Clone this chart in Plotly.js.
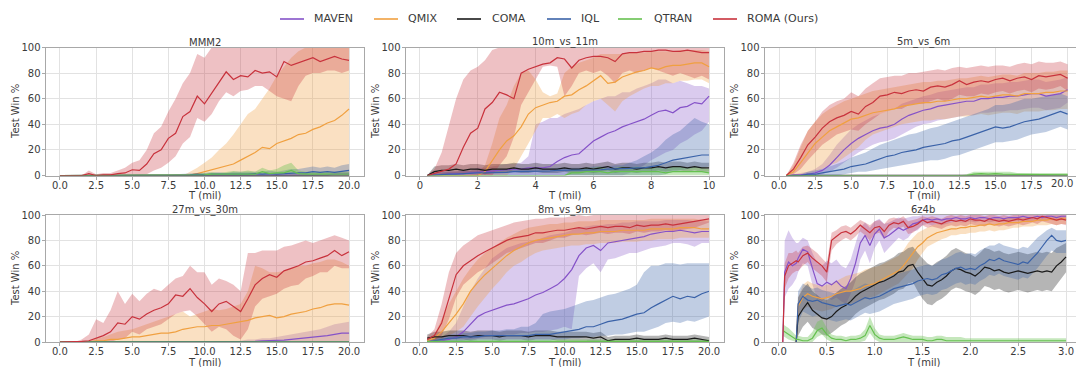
<!DOCTYPE html>
<html>
<head>
<meta charset="utf-8">
<script src="https://cdn.plot.ly/plotly-3.0.1.min.js"></script>
<style>html,body{margin:0;padding:0;background:#fff;}#chart{width:1076px;height:367px;}</style>
</head>
<body>
<div id="chart"></div>
<script>
// ---------------- DATA ----------------
const series_names = ['MAVEN','QMIX','COMA','IQL','QTRAN','ROMA (Ours)'];
const panel_titles = ['MMM2','10m_vs_11m','5m_vs_6m','27m_vs_30m','8m_vs_9m','6z4b'];

// MMM2 (T in mil, 0..20)
const mmm2_x = [0,0.5,1,1.5,2,2.5,3,3.5,4,4.5,5,5.5,6,6.5,7,7.5,8,8.5,9,9.5,10,10.5,11,11.5,12,12.5,13,13.5,14,14.5,15,15.5,16,16.5,17,17.5,18,18.5,19,19.5,20];
const mmm2_roma    = [0,0,0,0,1.5,0,0.5,0.5,1.5,2, 4.5,4,9,17,20,29,33,46,50,62, 56,64,72,81,75,78,77,82,80,81, 77,89,86,88,90,92,89,91,93,91, 90];
const mmm2_roma_lo = [0,0,0,0,0,0,0,0,0,0, 0,0,1,4,6,10,15,25,30,45, 42,48,58,65,62,66,67,70,70,66, 62,60,58,70,78,80,80,82,82,80, 82];
const mmm2_roma_hi = [0,0,0,0,4,1,2,2,4,6, 10,12,20,33,38,50,60,72,80,95, 92,100,100,100,100,100,100,100,100,100, 100,100,100,100,100,100,100,100,100,100, 100];
const mmm2_qmix    = [0,0,0,0,0,0,0,0,0,0, 0,0,0,0,0,0,0,0,0.5,1.5, 3,4,6,7,9,12,15,18,22,21, 25,27,29,32,33,36,38,41,43,47, 52];
const mmm2_qmix_lo = [0,0,0,0,0,0,0,0,0,0, 0,0,0,0,0,0,0,0,0,0, 0,0,0,0,0,0,0,0,0,0, 0,0,0,0,0,0,0,0,0,0, 0];
const mmm2_qmix_hi = [0,0,0,0,0,0,0,0,0,0, 0,0,0,0,0,0,0,0,3,6, 10,14,20,25,32,40,48,52,60,68, 78,85,92,97,100,100,100,100,100,100, 100];
const mmm2_maven    = [0,0,0,0,0,0,0,0,0,0, 0,0,0,0,0,0,0,0,0,0, 0,0,0,0,0,0,0,0,0,0, 0,0,0,0,0,0,0.5,0.5,1,1, 1];
const mmm2_maven_lo = [0,0,0,0,0,0,0,0,0,0, 0,0,0,0,0,0,0,0,0,0, 0,0,0,0,0,0,0,0,0,0, 0,0,0,0,0,0,0,0,0,0, 0];
const mmm2_maven_hi = [0,0,0,0,0,0,0,0,0,0, 0,0,0,0,0,0,0,0,0,0, 0,0,0,0,0,0,0,0,0,0, 1,1,1,1,2,2,2,2,3,3, 3];
const mmm2_coma    = [0,0,0,0,0,0,0,0,0,0, 0,0,0,0,0,0,0,0,0,0, 0,0,0,0,0,0,0,0,0,0, 0,0,0,0,0,0,0,0,0,0, 0];
const mmm2_coma_lo = [0,0,0,0,0,0,0,0,0,0, 0,0,0,0,0,0,0,0,0,0, 0,0,0,0,0,0,0,0,0,0, 0,0,0,0,0,0,0,0,0,0, 0];
const mmm2_coma_hi = [0,0,0,0,0,0,0,0,0,0, 0,0,0,0,0,0,0,0,0,0, 0,0,0,0,0,0,0,0,0,0, 0,0,0,0,0,0,0,0,0,0, 0];
const mmm2_iql    = [0,0,0,0,0,0,0,0,0,0, 0,0,0,0,0,0,0.5,0.5,0.5,1, 0.5,1,1,0.5,1,1,1,1.5,1,1.5, 1,1.5,2,2,2,3,2.5,3,2.5,3, 4];
const mmm2_iql_lo = [0,0,0,0,0,0,0,0,0,0, 0,0,0,0,0,0,0,0,0,0, 0,0,0,0,0,0,0,0,0,0, 0,0,0,0,0,0,0,0,0,0, 0];
const mmm2_iql_hi = [0,0,0,0,0,0,0,0,0,0, 0,0,0,0,0,0,1,1.5,1.5,2, 2,2.5,2.5,2,3,3,3,3.5,3,4, 3,4,5,5,6,7,6,7,6,8, 9];
const mmm2_qtran    = [0,0,0,0,0,0,0,0,0,0, 0,0,0,0,0,0,0,0,0.5,0.5, 0.5,1,1,1,1.5,1,1.5,1,3,1.5, 2,2,4,1.5,1,1,1,1.5,1,1, 1];
const mmm2_qtran_lo = [0,0,0,0,0,0,0,0,0,0, 0,0,0,0,0,0,0,0,0,0, 0,0,0,0,0,0,0,0,0,0, 0,0,0,0,0,0,0,0,0,0, 0];
const mmm2_qtran_hi = [0,0,0,0,0,0,0,0,0,0, 0,0,0,0,0,0,0,0,1,1.5, 1.5,2.5,2,3,3.5,3,4,3,6,4, 5,8,10,4,3,3,3,3.5,3,3, 3];

// 10m_vs_11m (T in mil, 0..10)
const tenm_x = [0,0.25,0.5,0.75,1,1.25,1.5,1.75,2,2.25,2.5,2.75,3,3.25,3.5,3.75,4,4.25,4.5,4.75,5,5.25,5.5,5.75,6,6.25,6.5,6.75,7,7.25,7.5,7.75,8,8.25,8.5,8.75,9,9.25,9.5,9.75,10];
const tenm_roma    = [null,0,1.5,3,5,9,22,33,37,52, 57,65,63,60,80,83,85,87,88,92, 91,84,90,92,93,93,92,89,95,96, 96,97,97,98,98,97,97,98,97,96, 96];
const tenm_roma_lo = [null,0,0,0,0,0,0,0,0,0, 0,8,15,30,55,65,75,85,86,85, 62,70,80,82,80,82,78,72,80,82, 80,82,84,82,80,78,80,78,76,78, 75];
const tenm_roma_hi = [null,0,5,18,40,60,75,82,85,90, 98,100,100,100,100,100,100,100,100,100, 100,100,100,100,100,100,100,100,100,100, 100,100,100,100,100,100,100,100,100,100, 100];
const tenm_qmix    = [null,0,0,0,0,0,0,0,0,3, 12,20,27,31,38,48,53,55,57,58, 62,63,67,70,74,78,72,73,77,79, 81,82,84,83,85,86,86,87,88,88, 85];
const tenm_qmix_lo = [null,0,0,0,0,0,0,0,0,0, 0,0,0,5,15,25,35,45,45,48, 45,48,50,55,58,60,55,50,58,62, 65,68,70,70,72,72,74,74,75,75, 72];
const tenm_qmix_hi = [null,0,0,0,0,0,0,1,2,8, 25,45,55,70,80,82,75,65,62,64, 80,85,88,90,92,95,95,95,95,96, 96,96,97,97,97,97,98,98,98,98, 97];
const tenm_maven    = [null,0,0.5,1,1,1.5,1.5,2,3,3, 4,4,5,5,5,6,6,6,7,11, 14,16,17,22,27,30,33,35,38,40, 42,44,47,50,51,49,53,54,57,56, 62];
const tenm_maven_lo = [null,0,0,0,0,0,0,0,0,0, 0,0,0,0,0,0,0,0,0,0, 0,0,0,0,0,0,0,0,0,2, 5,8,12,15,18,20,25,28,32,35, 42];
const tenm_maven_hi = [null,0,1,2,3,3,4,4,6,6, 7,8,9,9,10,15,40,42,45,45, 48,50,52,55,58,60,62,62,65,65, 68,70,72,75,75,72,74,72,70,70, 68];
const tenm_coma    = [null,0,3,4,4,5,4,5,5,4, 5,5,5,6,5,5,6,5,5,5, 6,5,5,6,5,6,7,5,6,6, 5,6,6,7,6,7,7,6,7,6, 6];
const tenm_coma_lo = [null,0,0,1,1,2,1,2,2,1, 2,2,2,3,2,2,3,2,2,2, 3,2,2,3,2,3,4,2,3,3, 2,3,3,4,3,4,4,3,4,3, 3];
const tenm_coma_hi = [null,0,7,8,8,9,8,9,9,8, 9,9,9,10,9,9,10,9,9,9, 10,9,9,10,9,10,11,9,10,10, 9,10,10,11,10,11,11,10,11,10, 10];
const tenm_iql    = [null,0,0.5,1,1,1,1.5,1.5,2,2, 2,2.5,2.5,3,3,3,3,3.5,3.5,4, 4,4,4,4,4.5,4.5,5,5,5,5.5, 6,6,7,8,10,12,13,14,15,16, 16];
const tenm_iql_lo = [null,0,0,0,0,0,0,0,0,0, 0,0,0,0,0,0,0,0,0,0, 0,0,0,0,0,0,0,0,0,0, 0,0,0,0,1,3,4,5,6,6, 7];
const tenm_iql_hi = [null,0,2,3,3,3,3.5,3.5,4,4, 4,4.5,4.5,5,5,5,5,5.5,5.5,6, 6,6,6,6,7,7,7,8,8,10, 12,15,18,22,28,32,35,40,45,42, 40];
const tenm_qtran    = [null,0,0,0,0,0,0,0,0,0, 0,0,0,0,0,0,0,0,0,0, 0,2,2,3,3,3,2,3,3,3, 3,3,3,3,2,3,3,3,3,3, 2];
const tenm_qtran_lo = [null,0,0,0,0,0,0,0,0,0, 0,0,0,0,0,0,0,0,0,0, 0,0,0,0,0,0,0,0,0,0, 0,0,0,0,0,0,0,0,0,0, 0];
const tenm_qtran_hi = [null,0,0,0,0,0,0,0,0,0, 0,0,0,0,0,0,0,0,0,0, 0,5,5,6,6,7,5,6,7,6, 7,6,7,6,5,7,7,6,7,6, 5];

// 5m_vs_6m (T in mil, 0..20)
const fivem_x = [0,0.5,1,1.5,2,2.5,3,3.5,4,4.5,5,5.5,6,6.5,7,7.5,8,8.5,9,9.5,10,10.5,11,11.5,12,12.5,13,13.5,14,14.5,15,15.5,16,16.5,17,17.5,18,18.5,19,19.5,20];
const fivem_roma    = [null,0,5,14,24,30,37,42,45,47, 50,48,54,57,62,63,65,64,66,67, 66,69,70,69,71,74,71,73,74,73, 75,76,74,76,77,75,78,77,78,79, 76];
const fivem_roma_lo = [null,0,1,5,12,18,24,28,32,34, 36,35,40,44,48,50,52,52,55,56, 56,58,60,58,60,63,62,62,64,63, 65,66,64,66,67,65,68,67,68,70, 66];
const fivem_roma_hi = [null,0,10,24,35,42,50,55,58,60, 65,62,68,72,76,77,78,78,80,80, 81,82,83,82,84,85,84,85,86,85, 86,86,85,87,88,87,89,88,88,89, 87];
const fivem_qmix    = [null,0,3,10,18,25,30,35,38,41, 44,45,47,49,50,51,52,54,55,56, 57,57,58,58,59,60,60,61,62,61, 62,63,63,62,64,64,64,65,65,66, 66];
const fivem_qmix_lo = [null,0,0,0,1,3,5,8,10,14, 18,22,28,32,34,36,38,40,41,42, 43,43,44,44,45,46,46,47,48,47, 48,49,49,48,50,50,50,51,51,52, 52];
const fivem_qmix_hi = [null,0,8,22,35,42,48,52,55,58, 60,62,64,66,67,68,69,70,71,72, 73,73,74,74,75,76,76,77,78,77, 78,79,79,78,80,80,80,81,81,82, 82];
const fivem_maven    = [null,0,0,0.5,1,2,4,8,14,20, 25,29,32,35,37,38,40,44,47,49, 51,52,54,55,56,57,58,58,60,60, 61,61,62,62,63,64,64,62,63,64, 67];
const fivem_maven_lo = [null,0,0,0,0,0,1,3,6,10, 14,18,21,24,26,27,29,32,35,38, 40,41,43,44,45,46,47,47,49,49, 50,50,51,51,52,53,53,51,52,53, 57];
const fivem_maven_hi = [null,0,1,2,3,5,9,16,24,30, 36,40,43,46,48,50,52,56,58,60, 62,63,65,66,67,68,69,69,71,71, 72,72,73,73,74,75,75,73,74,75, 77];
const fivem_coma    = [null,0,0,0,0,0,0,0,0,0, 0,0,0,0,0,0,0,0,0,0, 0,0,0,0,0,0,0,0,0,0, 0,0,0,0,0,0,0,0,0,0, 0];
const fivem_coma_lo = [null,0,0,0,0,0,0,0,0,0, 0,0,0,0,0,0,0,0,0,0, 0,0,0,0,0,0,0,0,0,0, 0,0,0,0,0,0,0,0,0,0, 0];
const fivem_coma_hi = [null,0,1,1,1,1,1,1,1,1, 1,1,1,1,1,1,1,1,1,1, 1,1,1,1,1,1,1,1,1,1, 1,1,1,1,1,1,1,1,1,1, 1];
const fivem_iql    = [null,0,0,0,1,1,2,3,4,5, 7,8,9,11,13,15,16,18,19,20, 22,23,24,25,27,28,30,32,34,36, 38,37,38,40,42,43,44,46,48,50, 48];
const fivem_iql_lo = [null,0,0,0,0,0,0,0,0,1, 2,3,3,4,5,6,7,8,9,10, 11,12,12,13,15,16,18,20,22,24, 26,26,27,28,30,32,33,34,36,38, 36];
const fivem_iql_hi = [null,0,1,1,3,4,5,7,9,11, 14,16,18,21,24,26,28,30,32,33, 35,37,38,40,42,44,46,48,50,52, 55,55,56,58,60,60,61,62,63,64, 62];
const fivem_qtran    = [null,0,0,0,0,0,0,0,0,0, 0,0,0,0,0,0,0,0,0,0, 0,0,0,0,0,0,0,1,1.5,1, 1.5,1,1,0.5,0.5,0.5,0.5,0.5,0.5,0.5, 0.5];
const fivem_qtran_lo = [null,0,0,0,0,0,0,0,0,0, 0,0,0,0,0,0,0,0,0,0, 0,0,0,0,0,0,0,0,0,0, 0,0,0,0,0,0,0,0,0,0, 0];
const fivem_qtran_hi = [null,0,0,0,0,0,0,0,0,0, 0,0,0,0,0,0,0,0,0,0, 0,0,0,0,0,0,1,3,3,3, 3,3,3,2,2,2,2,2,2,2, 2];

// 27m_vs_30m (T in mil, 0..20)
const tsm_x = [0,0.5,1,1.5,2,2.5,3,3.5,4,4.5,5,5.5,6,6.5,7,7.5,8,8.5,9,9.5,10,10.5,11,11.5,12,12.5,13,13.5,14,14.5,15,15.5,16,16.5,17,17.5,18,18.5,19,19.5,20];
const tsm_roma    = [0,0,0,0.5,1,3,5,8,15,14, 20,18,22,25,27,30,37,36,42,35, 30,24,30,32,28,24,34,45,50,53, 51,56,58,60,63,64,66,68,72,68, 71];
const tsm_roma_lo = [0,0,0,0,0,0,0,0,2,3, 8,6,10,12,14,18,22,24,25,20, 14,8,12,10,5,2,10,28,34,36, 38,42,44,45,50,52,55,55,60,58, 58];
const tsm_roma_hi = [0,0,0,2,6,18,15,25,40,30, 38,32,38,42,40,45,50,52,60,55, 55,45,50,48,45,40,70,70,72,72, 72,75,76,78,80,78,80,82,84,82, 80];
const tsm_qmix    = [0,0,0,0,0,1,1,2,2,3, 4,4,5,6,7,7,8,10,11,12, 12,13,13,14,15,16,17,19,20,21, 19,20,22,23,24,26,27,29,30,30, 29];
const tsm_qmix_lo = [0,0,0,0,0,0,0,0,0,0, 0,0,0,0,0,0,0,0,0,0, 0,0,0,0,0,0,0,0,0,0, 0,0,0,0,0,0,0,0,0,0, 0];
const tsm_qmix_hi = [0,0,0,0,1,3,4,6,8,9, 10,12,14,16,18,20,22,24,20,22, 24,26,25,26,28,30,40,60,58,55, 55,56,58,60,60,62,63,65,65,63, 60];
const tsm_maven    = [0,0,0,0,0,0,0,0,0,0, 0,0,0,0,0,0,0,0,0,0, 0,0,0,0,0,0.3,0.5,0.5,1,1, 1,1.5,2,2.5,3,3.5,4,5,6,7, 7];
const tsm_maven_lo = [0,0,0,0,0,0,0,0,0,0, 0,0,0,0,0,0,0,0,0,0, 0,0,0,0,0,0,0,0,0,0, 0,0,0,0,0,0,0,0,0,0, 0];
const tsm_maven_hi = [0,0,0,0,0,0,0,0,0,0, 0,0,0,0,0,0,0,0,0,0, 0,0,0,0,0,1,2,2,3,3, 4,5,6,7,8,9,10,12,14,15, 16];
const tsm_zero     = [0,0,0,0,0,0,0,0,0,0, 0,0,0,0,0,0,0,0,0,0, 0,0,0,0,0,0,0,0,0,0, 0,0,0,0,0,0,0,0,0,0, 0];

// 8m_vs_9m (T in mil, 0..20)
const eightm_x = [0,0.5,1,1.5,2,2.5,3,3.5,4,4.5,5,5.5,6,6.5,7,7.5,8,8.5,9,9.5,10,10.5,11,11.5,12,12.5,13,13.5,14,14.5,15,15.5,16,16.5,17,17.5,18,18.5,19,19.5,20];
const eightm_roma    = [null,2,5,15,35,53,60,64,68,71, 74,77,80,82,83,84,86,86,87,88, 88,89,90,89,90,91,90,91,91,90, 92,91,92,92,93,92,93,94,95,96, 97];
const eightm_roma_lo = [null,0,1,5,18,35,45,50,55,58, 62,66,70,72,74,76,78,78,80,82, 82,84,85,84,85,86,85,86,86,85, 87,86,87,87,88,87,88,89,90,92, 94];
const eightm_roma_hi = [null,4,10,30,55,70,76,80,84,86, 88,90,92,94,95,96,97,97,98,98, 98,99,100,99,100,100,100,100,100,100, 100,100,100,100,100,100,100,100,100,100, 100];
const eightm_qmix    = [null,1,3,8,15,22,30,40,47,53, 58,63,68,72,75,78,80,81,82,83, 84,85,85,86,86,87,87,87,88,88, 88,88,89,89,89,89,90,90,90,89, 89];
const eightm_qmix_lo = [null,0,0,2,5,8,12,20,28,35, 42,48,55,60,63,67,70,72,73,74, 75,76,76,77,77,78,78,78,79,79, 79,80,80,81,81,81,82,82,82,82, 82];
const eightm_qmix_hi = [null,2,6,18,30,40,50,58,65,70, 74,78,82,85,88,90,91,92,93,93, 94,94,95,95,95,96,96,96,96,96, 96,96,97,97,97,97,97,97,97,96, 96];
const eightm_maven    = [null,1,1,1,2,4,8,14,20,23, 25,27,29,30,32,34,37,39,42,45, 50,57,68,74,76,72,78,79,80,81, 82,83,85,86,87,87,88,87,86,87, 87];
const eightm_maven_lo = [null,0,0,0,0,0,1,2,3,4, 5,5,6,6,7,7,8,8,9,10, 12,10,52,58,62,55,65,66,68,70, 70,72,74,75,76,78,78,77,75,78, 78];
const eightm_maven_hi = [null,2,3,4,8,15,28,40,50,58, 66,70,74,76,78,79,80,82,84,85, 86,88,90,91,92,92,93,93,94,94, 95,95,95,95,96,96,96,96,95,95, 95];
const eightm_coma    = [null,3,4,4,5,5,5,4,5,5, 5,4,5,5,5,4,5,5,5,4, 4,4,4,4,3,4,1,2,2,2, 3,2,2,2,3,2,2,2,3,2, 1];
const eightm_coma_lo = [null,0,1,1,2,2,2,1,2,2, 2,1,2,2,2,1,2,2,2,1, 1,1,1,1,0,1,0,0,0,0, 0,0,0,0,0,0,0,0,0,0, 0];
const eightm_coma_hi = [null,6,8,8,9,9,9,8,9,9, 9,8,9,9,9,8,9,9,9,8, 8,8,8,8,7,8,4,5,5,5, 6,5,5,5,6,5,5,5,6,5, 4];
const eightm_iql    = [null,0,1,2,3,3,4,4,4,5, 5,5,5,5,5,5,6,6,6,7, 8,9,10,12,12,14,16,17,18,20, 22,23,27,30,33,36,34,36,35,38, 40];
const eightm_iql_lo = [null,0,0,0,0,0,0,0,1,1, 1,1,1,1,1,1,1,1,1,2, 2,3,3,4,4,5,5,6,6,7, 8,8,10,12,15,16,15,17,16,18, 20];
const eightm_iql_hi = [null,1,3,4,6,6,7,7,8,8, 9,9,10,10,12,12,15,22,24,25, 26,28,30,32,33,35,37,38,40,42, 45,55,60,60,62,62,61,62,62,62, 62];
const eightm_qtran    = [null,0.5,0.5,0.5,0.5,0.5,0.5,0.5,0.5,0.5, 0.5,0.5,0.5,0.5,0.5,0.5,0.5,0.5,0.5,0.5, 0.5,0.5,0.5,0.5,0.5,0.5,0.5,0.5,0.5,0.5, 0.5,0.5,0.5,0.5,0.5,0.5,0.5,0.5,0.5,0.5, 0.5];
const eightm_qtran_lo = [null,0,0,0,0,0,0,0,0,0, 0,0,0,0,0,0,0,0,0,0, 0,0,0,0,0,0,0,0,0,0, 0,0,0,0,0,0,0,0,0,0, 0];
const eightm_qtran_hi = [null,2,2,2,2,2,2,2,2,2, 2,2,2,2,2,2,2,2,2,2, 2,2,2,2,2,2,2,2,2,2, 2,2,2,2,2,2,2,2,2,2, 2];

// 6z4b (T in mil, 0..3)
const sixz_x = [0.04,0.06,0.1,0.14,0.18,0.2,0.25,0.3,0.35,0.4, 0.45,0.5,0.55,0.6,0.65,0.7,0.75,0.8,0.85,0.9, 0.95,1.0,1.05,1.1,1.15,1.2,1.25,1.3,1.35,1.4, 1.45,1.5,1.55,1.6,1.65,1.7,1.75,1.8,1.85,1.9, 1.95,2.0,2.05,2.1,2.15,2.2,2.25,2.3,2.35,2.4, 2.45,2.5,2.55,2.6,2.65,2.7,2.75,2.8,2.85,2.9, 2.95,3.0];
const sixz_roma    = [0,52,60,62,64,63,68,70,66,63, 60,55,80,83,86,87,85,88,92,89, 86,90,91,87,92,94,93,95,90,91, 93,96,94,95,94,93,95,96,95,96, 95,97,96,96,95,97,96,95,96,95, 96,97,96,97,98,97,99,98,97,96, 97,96];
const sixz_roma_lo = [0,42,50,54,56,56,60,63,58,55, 52,47,72,77,80,82,80,83,87,84, 80,85,86,81,87,90,89,91,85,86, 89,92,90,91,90,89,91,92,91,92, 91,93,92,92,91,93,92,91,92,91, 92,93,92,93,94,93,95,94,93,92, 93,92];
const sixz_roma_hi = [0,62,70,70,72,70,75,76,73,70, 66,62,86,88,91,92,90,93,96,94, 92,95,96,93,97,98,97,99,95,96, 97,99,98,99,98,97,99,100,99,100, 99,100,100,100,99,100,100,99,100,99, 100,100,100,100,100,100,100,100,100,100, 100,100];
const sixz_maven    = [0,55,63,60,62,66,73,71,58,46, 44,47,45,48,44,42,50,62,78,84, 76,85,89,82,84,87,90,88,90,93, 94,96,97,96,97,96,97,97,98,97, 97,98,97,98,98,97,98,98,97,98, 98,98,99,98,98,99,98,99,99,98, 99,99];
const sixz_maven_lo = [0,35,42,45,50,55,62,60,45,34, 32,35,33,35,32,30,38,48,65,72, 62,74,80,70,74,78,82,80,82,87, 88,92,93,92,93,92,93,94,95,94, 94,95,94,95,95,94,95,95,94,95, 95,95,96,95,95,96,95,96,96,95, 96,96];
const sixz_maven_hi = [0,80,88,82,78,78,82,80,70,62, 60,64,62,65,60,58,65,78,90,94, 90,95,97,93,94,96,98,97,98,99, 99,100,100,100,100,100,100,100,100,100, 100,100,100,100,100,100,100,100,100,100, 100,100,100,100,100,100,100,100,100,100, 100,100];
const sixz_qmix    = [null,null,null,null,0,28,35,38,36,35, 34,35,36,38,39,40,40,41,42,44, 45,46,48,50,52,54,56,60,65,70, 75,78,82,84,86,87,88,89,89,90, 90,91,91,92,92,93,92,93,93,94, 94,94,95,95,95,96,96,96,97,96, 97,97];
const sixz_qmix_lo = [null,null,null,null,0,20,25,28,26,25, 24,25,26,28,29,30,30,31,32,34, 35,36,38,40,42,44,46,50,54,58, 65,70,75,77,79,81,82,84,84,85, 85,86,86,87,87,88,87,88,88,89, 90,90,91,91,91,92,92,92,93,92, 93,93];
const sixz_qmix_hi = [null,null,null,null,0,35,45,48,46,45, 44,45,46,48,50,52,53,54,55,57, 58,59,60,62,64,66,68,72,78,82, 86,88,90,92,93,93,94,94,95,95, 95,96,96,96,96,97,97,97,97,98, 98,98,98,98,98,99,99,99,99,99, 99,99];
const sixz_coma    = [null,null,null,null,0,20,26,31,25,22, 19,18,20,24,27,29,32,36,39,41, 43,45,47,48,50,52,55,56,60,61, 55,50,45,44,47,49,52,56,58,57, 55,54,52,55,59,58,56,57,55,54, 55,56,55,54,55,56,55,56,55,60, 63,67];
const sixz_coma_lo = [null,null,null,null,0,5,12,16,11,9, 6,5,7,10,13,15,18,22,25,27, 29,31,33,34,36,38,41,42,46,47, 40,34,30,29,32,34,37,41,43,42, 40,39,37,40,44,43,41,42,40,39, 40,41,40,39,40,41,40,41,40,45, 50,55];
const sixz_coma_hi = [null,null,null,null,0,35,42,46,40,37, 34,33,35,39,42,44,47,51,54,56, 58,60,62,63,65,67,70,71,74,75, 70,66,62,60,63,65,68,72,74,72, 70,69,67,70,74,73,71,72,70,69, 70,71,70,69,70,71,70,71,70,74, 76,78];
const sixz_iql    = [null,null,null,null,0,30,36,33,32,33, 31,30,29,28,29,30,29,31,33,35, 34,35,36,38,40,42,43,44,45,46, 48,49,50,49,50,53,54,56,58,59, 57,58,57,60,62,65,64,66,64,63, 62,61,63,62,66,70,75,80,84,80, 79,80];
const sixz_iql_lo = [null,null,null,null,0,15,24,22,20,21, 19,18,17,16,17,18,17,19,21,23, 22,23,24,26,28,30,31,32,33,34, 36,37,38,37,38,41,42,44,46,47, 45,46,45,48,50,53,52,54,52,51, 50,49,51,50,54,58,63,68,72,70, 70,70];
const sixz_iql_hi = [null,null,null,null,0,40,46,44,42,43, 41,40,39,38,39,40,40,42,44,46, 45,46,47,49,51,53,54,55,56,57, 59,60,61,60,62,65,66,68,70,71, 69,70,69,72,74,76,76,78,76,75, 74,73,75,74,78,82,85,88,90,88, 88,88];
const sixz_qtran    = [9,8,6,4,2,2,1,1,3,9, 11,6,3,2,2,1,2,2,3,5, 13,6,3,2,2,2,3,4,3,2, 2,2,1,1,2,2,1,1,1,1, 1,1,1,1,1,1,1,1,1,1, 1,1,1,1,1,1,1,1,1,1, 1,1];
const sixz_qtran_lo = [5,4,2,1,0,0,0,0,0,4, 6,2,0,0,0,0,0,0,0,1, 7,2,0,0,0,0,0,0,0,0, 0,0,0,0,0,0,0,0,0,0, 0,0,0,0,0,0,0,0,0,0, 0,0,0,0,0,0,0,0,0,0, 0,0];
const sixz_qtran_hi = [14,13,11,8,5,5,4,4,8,16, 18,11,6,5,5,4,5,5,6,10, 20,11,6,5,5,5,6,7,6,5, 5,5,4,4,5,5,4,4,4,4, 3,3,3,3,3,3,3,3,3,3, 3,3,3,3,3,3,3,3,3,3, 3,3];

// ---------------- STYLE ----------------
const LINE_COLORS = ['#8552c8','#f0a040','#1a1a1a','#3a62a8','#66c150','#c8323c'];
const BAND_COLORS = ['rgba(133,82,200,0.30)','rgba(240,160,64,0.32)','rgba(30,30,30,0.33)','rgba(58,98,168,0.32)','rgba(102,193,80,0.38)','rgba(200,50,60,0.30)'];

const panels = [
  {x: mmm2_x, s: [[mmm2_maven,mmm2_maven_lo,mmm2_maven_hi],[mmm2_qmix,mmm2_qmix_lo,mmm2_qmix_hi],[mmm2_coma,mmm2_coma_lo,mmm2_coma_hi],[mmm2_iql,mmm2_iql_lo,mmm2_iql_hi],[mmm2_qtran,mmm2_qtran_lo,mmm2_qtran_hi],[mmm2_roma,mmm2_roma_lo,mmm2_roma_hi]]},
  {x: tenm_x, s: [[tenm_maven,tenm_maven_lo,tenm_maven_hi],[tenm_qmix,tenm_qmix_lo,tenm_qmix_hi],[tenm_coma,tenm_coma_lo,tenm_coma_hi],[tenm_iql,tenm_iql_lo,tenm_iql_hi],[tenm_qtran,tenm_qtran_lo,tenm_qtran_hi],[tenm_roma,tenm_roma_lo,tenm_roma_hi]]},
  {x: fivem_x, s: [[fivem_maven,fivem_maven_lo,fivem_maven_hi],[fivem_qmix,fivem_qmix_lo,fivem_qmix_hi],[fivem_coma,fivem_coma_lo,fivem_coma_hi],[fivem_iql,fivem_iql_lo,fivem_iql_hi],[fivem_qtran,fivem_qtran_lo,fivem_qtran_hi],[fivem_roma,fivem_roma_lo,fivem_roma_hi]]},
  {x: tsm_x, s: [[tsm_maven,tsm_maven_lo,tsm_maven_hi],[tsm_qmix,tsm_qmix_lo,tsm_qmix_hi],[tsm_zero,tsm_zero,tsm_zero],[tsm_zero,tsm_zero,tsm_zero],[tsm_zero,tsm_zero,tsm_zero],[tsm_roma,tsm_roma_lo,tsm_roma_hi]]},
  {x: eightm_x, s: [[eightm_maven,eightm_maven_lo,eightm_maven_hi],[eightm_qmix,eightm_qmix_lo,eightm_qmix_hi],[eightm_coma,eightm_coma_lo,eightm_coma_hi],[eightm_iql,eightm_iql_lo,eightm_iql_hi],[eightm_qtran,eightm_qtran_lo,eightm_qtran_hi],[eightm_roma,eightm_roma_lo,eightm_roma_hi]]},
  {x: sixz_x, s: [[sixz_maven,sixz_maven_lo,sixz_maven_hi],[sixz_qmix,sixz_qmix_lo,sixz_qmix_hi],[sixz_coma,sixz_coma_lo,sixz_coma_hi],[sixz_iql,sixz_iql_lo,sixz_iql_hi],[sixz_qtran,sixz_qtran_lo,sixz_qtran_hi],[sixz_roma,sixz_roma_lo,sixz_roma_hi]]}
];

const W = 1076, H = 367;
// pixel geometry of each axes box [left, right, top, bottom] and x range
const geom = [
  {l:45.5, r:363.5, t:47.5, b:175.5, range:[-1,21], dtick:2.5, fmt:'.1f', mirrorY:true},
  {l:405.5, r:723.5, t:47.5, b:175.5, range:[-0.5,10.5], dtick:2, fmt:'d', mirrorY:true},
  {l:764.6, r:1076, t:47.5, b:175.5, range:[-1,20.58], dtick:2.5, fmt:'.1f', mirrorY:false, cx:923, lastTick:20},
  {l:45.5, r:363.5, t:215, b:342, range:[-1,21], dtick:2.5, fmt:'.1f', mirrorY:true},
  {l:405.5, r:723.5, t:215, b:342, range:[-1,21], dtick:2.5, fmt:'.1f', mirrorY:true},
  {l:764.6, r:1076, t:215, b:342, range:[-0.15,3.104], dtick:0.5, fmt:'.1f', mirrorY:false, cx:923}
];

const FONT = 'DejaVu Sans, Liberation Sans, sans-serif';
const TXT = '#3a3a3a';
const traces = [];
const layout = {
  width: W, height: H, margin:{l:0,r:0,t:0,b:0},
  paper_bgcolor:'#ffffff', plot_bgcolor:'#ffffff', showlegend:false,
  font:{family:FONT, size:10, color:TXT},
  annotations: [], shapes: []
};

panels.forEach((p, k) => {
  const ax = k === 0 ? '' : String(k + 1);
  const xa = 'x' + ax, ya = 'y' + ax;
  // bands
  p.s.forEach((trip, j) => {
    const [m, lo, hi] = trip;
    const xs = [], his = [], los = [];
    p.x.forEach((xv, i) => { if (lo[i] !== null && hi[i] !== null) { xs.push(xv); his.push(hi[i]); los.push(lo[i]); } });
    traces.push({x: xs.concat(xs.slice().reverse()), y: his.concat(los.slice().reverse()),
      type:'scatter', mode:'lines', fill:'toself', fillcolor: BAND_COLORS[j], line:{width:0},
      hoverinfo:'skip', xaxis:xa, yaxis:ya, showlegend:false});
  });
  // mean lines
  p.s.forEach((trip, j) => {
    traces.push({x: p.x, y: trip[0], type:'scatter', mode:'lines', name: series_names[j],
      line:{color: LINE_COLORS[j], width:1.2}, connectgaps:false, xaxis:xa, yaxis:ya, showlegend:false});
  });
  const g = geom[k];
  layout['xaxis' + ax] = {
    domain:[g.l / W, g.r / W], range:g.range, anchor:ya, dtick:g.dtick, tick0:0, tickformat:g.fmt,
    showgrid:true, gridcolor:'#e2e2e2', gridwidth:1, zeroline:false,
    showline:true, linecolor:'#a8a8a8', linewidth:1, mirror:true,
    ticks:'outside', ticklen:3, tickcolor:'#a8a8a8', ticklabelstandoff:-3,
    tickfont:{family:FONT, size:10, color:TXT}, fixedrange:true
  };
  layout['yaxis' + ax] = {
    domain:[1 - g.b / H, 1 - g.t / H], range:[0,100], anchor:xa, dtick:20, tick0:0,
    showgrid:true, gridcolor:'#e2e2e2', gridwidth:1, zeroline:false,
    showline:true, linecolor:'#a8a8a8', linewidth:1, mirror:g.mirrorY,
    ticks:'outside', ticklen:3, tickcolor:'#a8a8a8', ticklabelstandoff:-1,
    tickfont:{family:FONT, size:10, color:TXT}, fixedrange:true
  };
  const cx = g.cx !== undefined ? g.cx : (g.l + g.r) / 2;
  // last tick label at the image edge: kept fully inside the picture
  if (g.lastTick !== undefined) {
    layout.annotations.push({text: g.lastTick.toFixed(1), xref:'paper', yref:'paper', x: 1075 / W, y: 1 - (g.b + 8) / H,
      xanchor:'right', yanchor:'middle', showarrow:false, font:{family:FONT, size:10, color:TXT}});
  }
  // subplot title
  layout.annotations.push({text: panel_titles[k], xref:'paper', yref:'paper', x: cx / W, y: 1 - (g.t - 5.5) / H,
    xanchor:'center', yanchor:'middle', showarrow:false, font:{family:FONT, size:10, color:TXT}});
  // x title
  layout.annotations.push({text:'T (mil)', xref:'paper', yref:'paper', x: cx / W, y: 1 - (g.b + 20) / H,
    xanchor:'center', yanchor:'middle', showarrow:false, font:{family:FONT, size:10, color:TXT}});
  // y title
  layout.annotations.push({text:'Test Win %', xref:'paper', yref:'paper', x: (g.l - 30) / W, y: 1 - ((g.t + g.b) / 2) / H,
    xanchor:'center', yanchor:'middle', textangle:-90, showarrow:false, font:{family:FONT, size:10, color:TXT}});
});

// legend (drawn at top centre)
const legendPos = [[280,312],[374,406],[457,490],[547,579],[618,652],[713,745]];
const legY = 1 - 19 / H;
series_names.forEach((nm, j) => {
  const [lx, tx] = legendPos[j];
  layout.shapes.push({type:'line', xref:'paper', yref:'paper', x0: lx / W, x1: (lx + 24) / W, y0: legY, y1: legY,
    line:{color: LINE_COLORS[j], width:1.6}});
  layout.annotations.push({text: nm, xref:'paper', yref:'paper', x: tx / W, y: legY, xanchor:'left', yanchor:'middle',
    showarrow:false, font:{family:FONT, size:11, color:TXT}});
});

Plotly.newPlot('chart', traces, layout, {staticPlot:true, displayModeBar:false});
</script>
</body>
</html>
